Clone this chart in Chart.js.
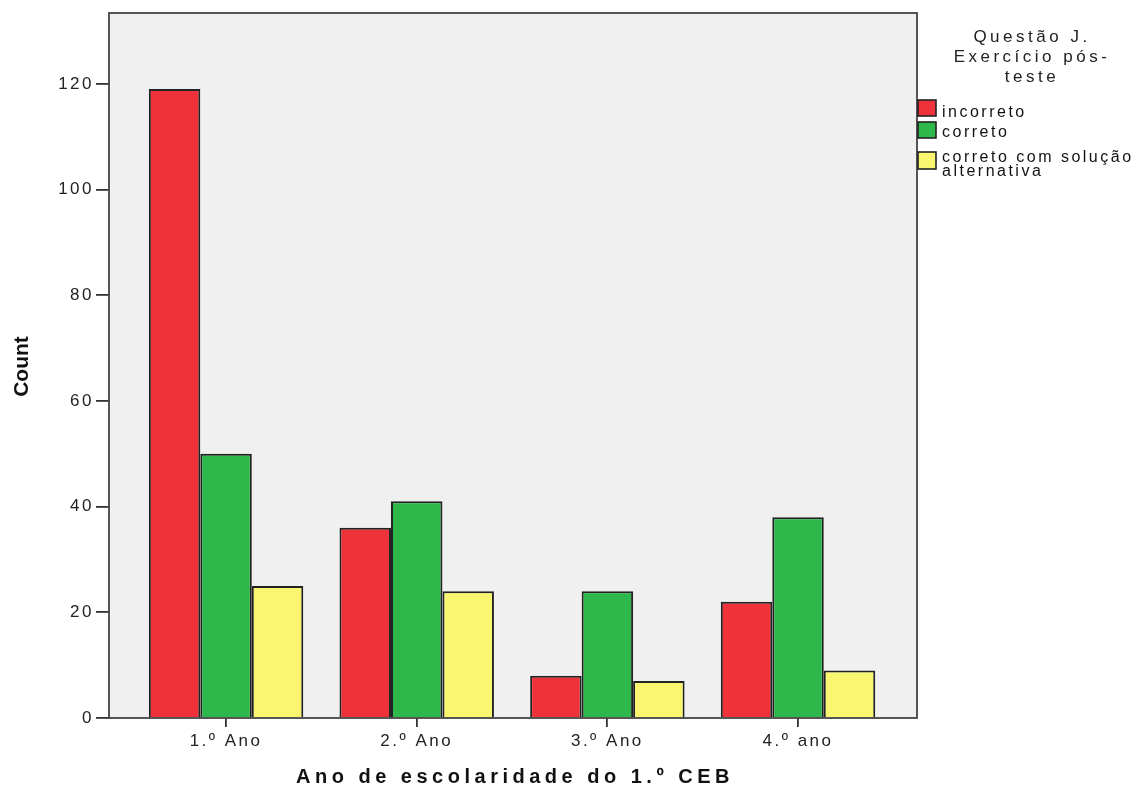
<!DOCTYPE html>
<html><head><meta charset="utf-8">
<script src="https://cdn.jsdelivr.net/npm/chart.js@4.4.1/dist/chart.umd.min.js"></script>
<style>html,body{margin:0;padding:0;background:#fff;}canvas{display:block;}</style>
</head><body>
<canvas id="c" width="1142" height="787"></canvas>
<script>
const categories = ['1.º Ano', '2.º Ano', '3.º Ano', '4.º ano'];
const incorreto = [119, 36, 8, 22];
const correto = [50, 41, 24, 38];
const alternativa = [25, 24, 7, 9];
const seriesNames = ['incorreto', 'correto', 'correto com solução alternativa'];
const legendLines = [['incorreto'], ['correto'], ['correto com solução', 'alternativa']];
const legendTitle = ['Questão J.', 'Exercício pós-', 'teste'];
const yTicks = [0, 20, 40, 60, 80, 100, 120];
const xTitle = 'Ano de escolaridade do 1.º CEB';
const yTitle = 'Count';
const colors = ['#EF3239', '#2EB84B', '#FAF670'];

const FONT = "'Liberation Sans', Arial, sans-serif";
const seriesValues = [incorreto, correto, alternativa];

const deco = {
  id: 'deco',
  beforeDraw(chart) {
    const {ctx, chartArea: a} = chart;
    ctx.save();
    ctx.fillStyle = '#F0F0F0';
    ctx.fillRect(a.left, a.top, a.right - a.left, a.bottom - a.top);
    ctx.restore();
    ctx.letterSpacing = '2.5px';
  },
  afterDatasetsDraw(chart) {
    const {ctx, chartArea: a} = chart;
    ctx.save();
    ctx.strokeStyle = '#444';
    ctx.lineWidth = 1.8;
    ctx.strokeRect(a.left, a.top, a.right - a.left, a.bottom - a.top);
    ctx.restore();
  },
  afterDraw(chart) {
    const {ctx, chartArea: a} = chart;
    ctx.letterSpacing = '0px';
    ctx.save();
    ctx.fillStyle = '#111';
    ctx.save();
    ctx.translate(22, (a.top + a.bottom) / 2 + 1);
    ctx.rotate(-Math.PI / 2);
    ctx.font = 'bold 21px ' + FONT;
    ctx.textAlign = 'center';
    ctx.textBaseline = 'middle';
    ctx.fillText(yTitle, 0, 0);
    ctx.restore();
    ctx.letterSpacing = '4.5px';
    ctx.font = 'bold 20px ' + FONT;
    ctx.textAlign = 'center';
    ctx.textBaseline = 'middle';
    ctx.fillText(xTitle, (a.left + a.right) / 2 + 2, 777);
    ctx.letterSpacing = '3.5px';
    ctx.font = '17px ' + FONT;
    ctx.fillStyle = '#222';
    legendTitle.forEach((t, i) => ctx.fillText(t, 1032, 37 + i * 20));
    const boxTops = [100, 122, 152];
    const boxH = [16, 16, 17];
    const baselines = [[117], [137], [162, 176]];
    ctx.letterSpacing = '2.5px';
    ctx.font = '16px ' + FONT;
    ctx.textAlign = 'left';
    ctx.textBaseline = 'alphabetic';
    chart.data.datasets.forEach((ds, i) => {
      ctx.fillStyle = ds.backgroundColor;
      ctx.fillRect(918, boxTops[i], 18, boxH[i]);
      ctx.strokeStyle = '#222';
      ctx.lineWidth = 1.6;
      ctx.strokeRect(918, boxTops[i], 18, boxH[i]);
      ctx.fillStyle = '#111';
      legendLines[i].forEach((l, j) => ctx.fillText(l, 942, baselines[i][j]));
    });
    ctx.restore();
    ctx.letterSpacing = '0px';
  }
};

new Chart(document.getElementById('c'), {
  type: 'bar',
  data: {
    datasets: seriesNames.map((name, s) => ({
      label: name,
      data: categories.map((c, i) => ({x: i + 1, y: seriesValues[s][i]})),
      backgroundColor: colors[s],
      borderColor: '#222',
      borderWidth: 2,
      barPercentage: 1.0,
      categoryPercentage: 0.81
    }))
  },
  options: {
    responsive: false,
    animation: false,
    layout: {padding: {left: 0, right: 225, top: 13, bottom: 0}},
    plugins: {legend: {display: false}, tooltip: {enabled: false}},
    scales: {
      x: {
        type: 'linear',
        offset: false,
        min: 0.386,
        max: 4.624,
        afterBuildTicks: s => { s.ticks = categories.map((c, i) => ({value: i + 1})); },
        afterFit: s => { s.height = 69; },
        ticks: {
          includeBounds: false,
          autoSkip: false,
          maxRotation: 0,
          padding: 4,
          color: '#222',
          font: {family: FONT, size: 17},
          callback: v => categories[Math.round(v) - 1]
        },
        grid: {offset: false, drawOnChartArea: false, drawTicks: true, tickLength: 9, color: '#333', lineWidth: 1.8},
        border: {display: false}
      },
      y: {
        min: 0,
        max: 133.4,
        afterBuildTicks: s => { s.ticks = yTicks.map(v => ({value: v})); },
        afterFit: s => { s.width = 109; },
        ticks: {
          includeBounds: false,
          padding: 2,
          color: '#222',
          font: {family: FONT, size: 17}
        },
        grid: {drawOnChartArea: false, drawTicks: true, tickLength: 13, color: '#333', lineWidth: 1.8},
        border: {display: false}
      }
    }
  },
  plugins: [deco]
});
</script>
</body></html>
